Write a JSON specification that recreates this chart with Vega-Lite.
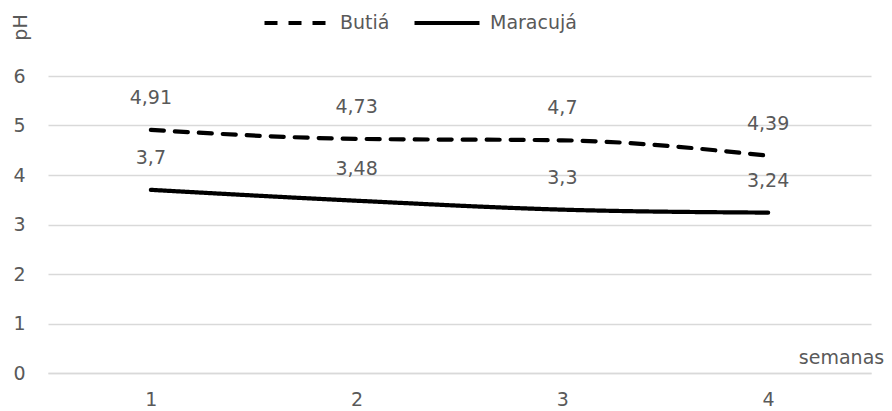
{
  "$schema": "https://vega.github.io/schema/vega-lite/v6.json",
  "autosize": "none",
  "width": 823,
  "height": 297,
  "padding": {"left": 48, "top": 76, "right": 21, "bottom": 38},
  "background": "white",
  "config": {
    "view": {"stroke": null},
    "font": "DejaVu Sans"
  },
  "data": {
    "values": [
      {"semana": "1", "serie": "Butiá", "ph": 4.91, "label": "4,91"},
      {"semana": "2", "serie": "Butiá", "ph": 4.73, "label": "4,73"},
      {"semana": "3", "serie": "Butiá", "ph": 4.7, "label": "4,7"},
      {"semana": "4", "serie": "Butiá", "ph": 4.39, "label": "4,39"},
      {"semana": "1", "serie": "Maracujá", "ph": 3.7, "label": "3,7"},
      {"semana": "2", "serie": "Maracujá", "ph": 3.48, "label": "3,48"},
      {"semana": "3", "serie": "Maracujá", "ph": 3.3, "label": "3,3"},
      {"semana": "4", "serie": "Maracujá", "ph": 3.24, "label": "3,24"}
    ]
  },
  "encoding": {
    "x": {
      "field": "semana",
      "type": "ordinal",
      "scale": {"type": "point", "padding": 0.5},
      "axis": {
        "title": "semanas",
        "titleX": 793,
        "titleY": -16,
        "titleAlign": "center",
        "titleBaseline": "middle",
        "titleFont": "DejaVu Sans",
        "titleFontSize": 19,
        "titleFontWeight": "normal",
        "titleColor": "#595959",
        "labelAngle": 0,
        "labelFont": "DejaVu Sans",
        "labelFontSize": 19,
        "labelColor": "#595959",
        "labelPadding": 17,
        "ticks": false,
        "domainColor": "#d9d9d9",
        "domainWidth": 1.3,
        "grid": false
      }
    },
    "y": {
      "field": "ph",
      "type": "quantitative",
      "scale": {"domain": [0, 6]},
      "axis": {
        "title": "pH",
        "titleAngle": -90,
        "titleX": -28,
        "titleY": -49,
        "titleAlign": "center",
        "titleBaseline": "middle",
        "titleFont": "DejaVu Sans",
        "titleFontSize": 19,
        "titleFontWeight": "normal",
        "titleColor": "#595959",
        "values": [0, 1, 2, 3, 4, 5, 6],
        "labelFont": "DejaVu Sans",
        "labelFontSize": 19,
        "labelColor": "#595959",
        "labelPadding": 23,
        "ticks": false,
        "domain": false,
        "grid": true,
        "gridColor": "#d9d9d9",
        "gridWidth": 1.3
      }
    }
  },
  "layer": [
    {
      "mark": {"type": "line", "interpolate": "monotone", "color": "black", "strokeWidth": 4.2, "strokeCap": "round"},
      "encoding": {
        "strokeDash": {
          "field": "serie",
          "type": "nominal",
          "scale": {"domain": ["Butiá", "Maracujá"], "range": [[13, 11], [1, 0]]},
          "legend": {
            "title": null,
            "orient": "none",
            "direction": "horizontal",
            "legendX": 214,
            "legendY": -88,
            "symbolType": "stroke",
            "symbolSize": 4225,
            "symbolStrokeWidth": 4.2,
            "symbolStrokeColor": "black",
            "labelFont": "DejaVu Sans",
            "labelFontSize": 19,
            "labelColor": "#595959",
            "labelOffset": 8,
            "columnPadding": 16
          }
        }
      }
    },
    {
      "mark": {"type": "text", "dy": -32, "baseline": "middle", "align": "center", "font": "DejaVu Sans", "fontSize": 19, "color": "#595959"},
      "encoding": {"text": {"field": "label"}}
    }
  ]
}
